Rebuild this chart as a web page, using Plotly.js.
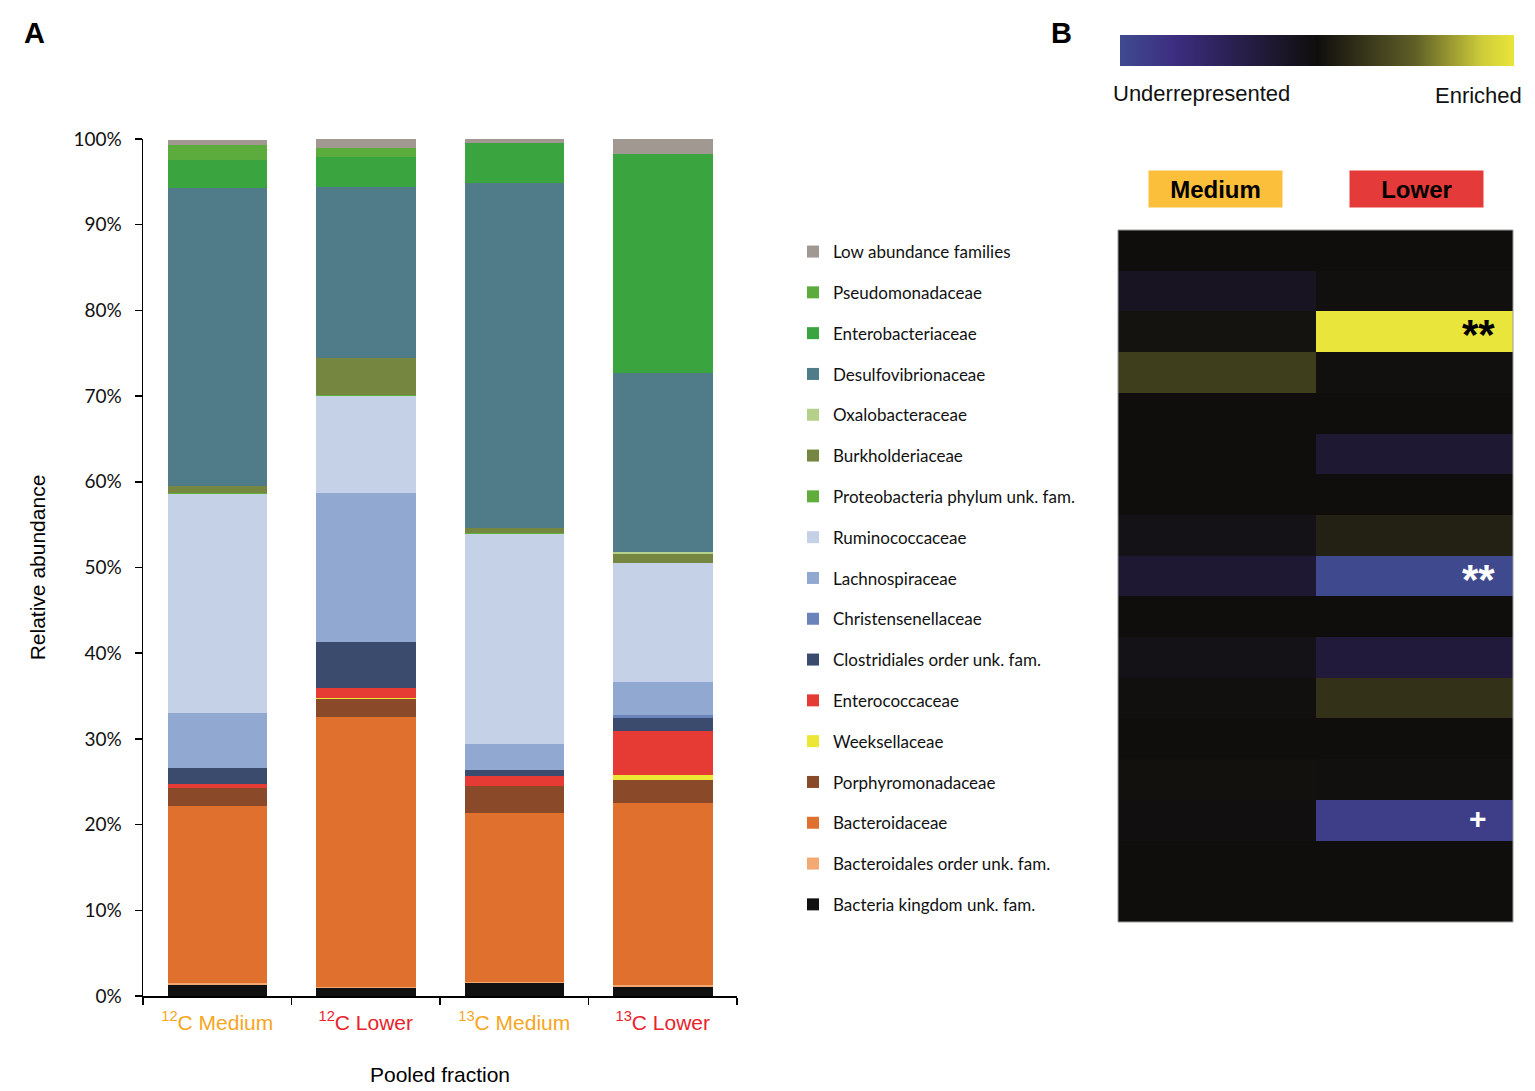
<!DOCTYPE html>
<html>
<head>
<meta charset="utf-8">
<script src="https://cdn.plot.ly/plotly-3.0.1.min.js"></script>
<style>html,body{margin:0;padding:0;background:#fff;}#chart{width:1535px;height:1091px;}</style>
</head>
<body>
<div id="chart"></div>
<script>
// ---------- data ----------
const categories = ['12C Medium', '12C Lower', '13C Medium', '13C Lower'];
const categoryLabels = ['<sup>12</sup>C Medium', '<sup>12</sup>C Lower', '<sup>13</sup>C Medium', '<sup>13</sup>C Lower'];
const categoryColors = ['#f6a623', '#e8232b', '#f6a623', '#e8232b'];
const yTickValues = [0, 10, 20, 30, 40, 50, 60, 70, 80, 90, 100];
const yTickLabels = ['0%', '10%', '20%', '30%', '40%', '50%', '60%', '70%', '80%', '90%', '100%'];

// families, bottom of stack first
const families = [
  'Bacteria kingdom unk. fam.',
  'Bacteroidales order unk. fam.',
  'Bacteroidaceae',
  'Porphyromonadaceae',
  'Weeksellaceae',
  'Enterococcaceae',
  'Clostridiales order unk. fam.',
  'Christensenellaceae',
  'Lachnospiraceae',
  'Ruminococcaceae',
  'Proteobacteria phylum unk. fam.',
  'Burkholderiaceae',
  'Oxalobacteraceae',
  'Desulfovibrionaceae',
  'Enterobacteriaceae',
  'Pseudomonadaceae',
  'Low abundance families'
];
const familyColors = [
  '#111111', '#f4a872', '#e0702e', '#8a4a29', '#ece634', '#e63b35',
  '#3b4b6e', '#6a83bb', '#91a8d1', '#c5d1e7', '#5fae3b', '#748640',
  '#b5d08a', '#4f7c88', '#3aa53f', '#5bab3d', '#a19892'
];

// relative abundance (%) per pooled fraction, same order as categories
const bacteriaKingdom     = [1.3, 0.9, 1.5, 1.1];
const bacteroidalesUnk    = [0.2, 0.2, 0.1, 0.2];
const bacteroidaceae      = [20.7, 31.4, 19.8, 21.2];
const porphyromonadaceae  = [2.1, 2.1, 3.1, 2.7];
const weeksellaceae       = [0.0, 0.2, 0.0, 0.6];
const enterococcaceae     = [0.4, 1.1, 1.2, 5.1];
const clostridialesUnk    = [1.9, 5.4, 0.7, 1.5];
const christensenellaceae = [0.0, 0.0, 0.0, 0.4];
const lachnospiraceae     = [6.4, 17.4, 3.0, 3.8];
const ruminococcaceae     = [25.6, 11.3, 24.5, 13.9];
const proteobacteriaUnk   = [0.1, 0.1, 0.1, 0.0];
const burkholderiaceae    = [0.8, 4.4, 0.6, 1.1];
const oxalobacteraceae    = [0.0, 0.0, 0.0, 0.2];
const desulfovibrionaceae = [34.8, 19.9, 40.3, 20.9];
const enterobacteriaceae  = [3.2, 3.5, 4.6, 25.5];
const pseudomonadaceae    = [1.8, 1.0, 0.0, 0.0];
const lowAbundance        = [0.6, 1.1, 0.5, 1.8];

const seriesValues = [
  bacteriaKingdom, bacteroidalesUnk, bacteroidaceae, porphyromonadaceae,
  weeksellaceae, enterococcaceae, clostridialesUnk, christensenellaceae,
  lachnospiraceae, ruminococcaceae, proteobacteriaUnk, burkholderiaceae,
  oxalobacteraceae, desulfovibrionaceae, enterobacteriaceae, pseudomonadaceae,
  lowAbundance
];

// heat map: rows top to bottom as the legend (Low abundance first)
const heatRows = families.slice().reverse();
const heatColumns = ['Medium', 'Lower'];
const heatMedium = [0, -0.13, 0.03, 0.29, 0, 0, 0, -0.06, -0.24, 0, -0.06, 0.01, 0, 0.02, -0.02, 0, 0];
const heatLower  = [0, 0.01, 1.0, 0.01, 0, -0.24, 0, 0.12, -0.98, 0, -0.28, 0.22, 0, 0.01, -0.87, 0, 0];
const heatMarks = [
  {row: 2, col: 1, text: '**', color: '#000000'},
  {row: 8, col: 1, text: '**', color: '#ffffff'},
  {row: 14, col: 1, text: '+', color: '#ffffff'}
];

// ---------- figure ----------
const W = 1535, H = 1091;
const px = v => v / W;
const py = v => 1 - v / H;

const traces = families.map((name, i) => ({
  type: 'bar',
  name: name,
  x: categories,
  y: seriesValues[i],
  marker: {color: familyColors[i], line: {width: 0}},
  legendgroup: 'g' + i,
  legendrank: families.length - i,
  width: 0.67,
  xaxis: 'x', yaxis: 'y',
  hoverinfo: 'name+y'
}));

const zMatrix = heatRows.map((r, i) => [heatMedium[i], heatLower[i]]);
traces.push({
  type: 'heatmap',
  x: heatColumns,
  y: heatRows,
  z: zMatrix,
  xaxis: 'x2', yaxis: 'y2',
  zmin: -1, zmax: 1,
  colorscale: [
    [0, '#3e4b8f'], [0.14, '#3d2d80'], [0.5, '#100e0d'],
    [0.75, '#5f5f27'], [0.92, '#cfcd3a'], [1, '#e9e53a']
  ],
  showlegend: false,
  colorbar: {
    orientation: 'h', x: px(1317), xanchor: 'center',
    y: py(35), yanchor: 'top',
    len: 394, lenmode: 'pixels', thickness: 31, thicknessmode: 'pixels',
    outlinewidth: 0, showticklabels: false, ticks: '', xpad: 0, ypad: 0
  }
});

const ann = (text, x, y, size, extra) => Object.assign({
  text: text, x: px(x), y: py(y), xref: 'paper', yref: 'paper', showarrow: false,
  xanchor: 'center', yanchor: 'middle',
  font: {family: 'Liberation Sans, Arial', size: size, color: '#111'}
}, extra || {});

const annotations = [
  ann('<b>A</b>', 34, 33, 29, {font: {family: 'Liberation Sans, Arial', size: 29, color: '#000'}}),
  ann('<b>B</b>', 1061, 33, 29, {font: {family: 'Liberation Sans, Arial', size: 29, color: '#000'}}),
  ann('Underrepresented', 1201, 94, 22),
  ann('Enriched', 1478, 95, 22),
  ann('<b>Medium</b>', 1215.5, 189, 24, {font: {family: 'Liberation Sans, Arial', size: 24, color: '#000'},
      bgcolor: '#fbbf3b', width: 127, height: 30, borderpad: 3}),
  ann('<b>Lower</b>', 1416.5, 189, 24, {font: {family: 'Liberation Sans, Arial', size: 24, color: '#000'},
      bgcolor: '#e53a3a', width: 127, height: 30, borderpad: 3})
];
heatMarks.forEach(m => {
  const star = m.text === '**';
  annotations.push({
    text: '<b>' + m.text + '</b>', x: m.col, y: m.row, xref: 'x2', yref: 'y2',
    xshift: 64, yshift: star ? -3 : 2, showarrow: false, xanchor: 'center', yanchor: 'middle',
    font: {family: 'Liberation Sans, Arial', size: star ? 42 : 30, color: m.color}
  });
});

const layout = {
  width: W, height: H,
  margin: {l: 0, r: 0, t: 0, b: 0},
  paper_bgcolor: '#fff', plot_bgcolor: 'rgba(0,0,0,0)',
  barmode: 'stack', bargap: 0.33,
  showlegend: true,
  legend: {
    x: px(793), y: py(234), xanchor: 'left', yanchor: 'top',
    traceorder: 'grouped', tracegroupgap: 15.7,
    font: {family: 'Lato, Open Sans', size: 17, color: '#111'},
    bgcolor: 'rgba(0,0,0,0)', itemclick: false
  },
  xaxis: {
    domain: [px(143), px(737)], anchor: 'y',
    type: 'category', range: [-0.5, 3.5],
    tickvals: categories,
    ticktext: categoryLabels.map((t, i) => '<span style="color:' + categoryColors[i] + '">' + t + '</span>'),
    tickson: 'boundaries', ticks: 'outside', ticklen: 7, tickcolor: '#000', tickwidth: 1.5,
    ticklabelstandoff: 7,
    showline: true, linecolor: '#000', linewidth: 1.5,
    showgrid: false, zeroline: false,
    tickfont: {family: 'Liberation Sans, Arial', size: 21},
    title: {text: 'Pooled fraction', standoff: 34, font: {family: 'Liberation Sans, Arial', size: 21, color: '#000'}},
    fixedrange: true
  },
  yaxis: {
    domain: [py(996), py(139)], anchor: 'x',
    range: [0, 100], tickvals: yTickValues, ticktext: yTickLabels,
    ticks: 'outside', ticklen: 7, tickcolor: '#000', tickwidth: 1.5,
    showline: true, linecolor: '#000', linewidth: 1.5,
    showgrid: false, zeroline: false,
    tickfont: {family: 'Lato, Open Sans', size: 19, color: '#111'},
    ticklabelstandoff: 9,
    title: {text: 'Relative abundance', standoff: 22, font: {family: 'Liberation Sans, Arial', size: 21, color: '#000'}},
    fixedrange: true
  },
  xaxis2: {
    domain: [px(1118), px(1513)], anchor: 'y2',
    showticklabels: false, ticks: '', showgrid: false, zeroline: false, showline: false,
    fixedrange: true
  },
  yaxis2: {
    domain: [py(922), py(230)], anchor: 'x2', autorange: 'reversed',
    showticklabels: false, ticks: '', showgrid: false, zeroline: false, showline: false,
    fixedrange: true
  },
  shapes: [
    {type: 'rect', xref: 'x2 domain', yref: 'y2 domain', x0: 0, x1: 1, y0: 0, y1: 1,
     line: {color: '#9a9a9a', width: 1}, fillcolor: 'rgba(0,0,0,0)'}
  ],
  annotations: annotations
};

Plotly.newPlot('chart', traces, layout, {displayModeBar: false, staticPlot: true});
</script>
</body>
</html>
